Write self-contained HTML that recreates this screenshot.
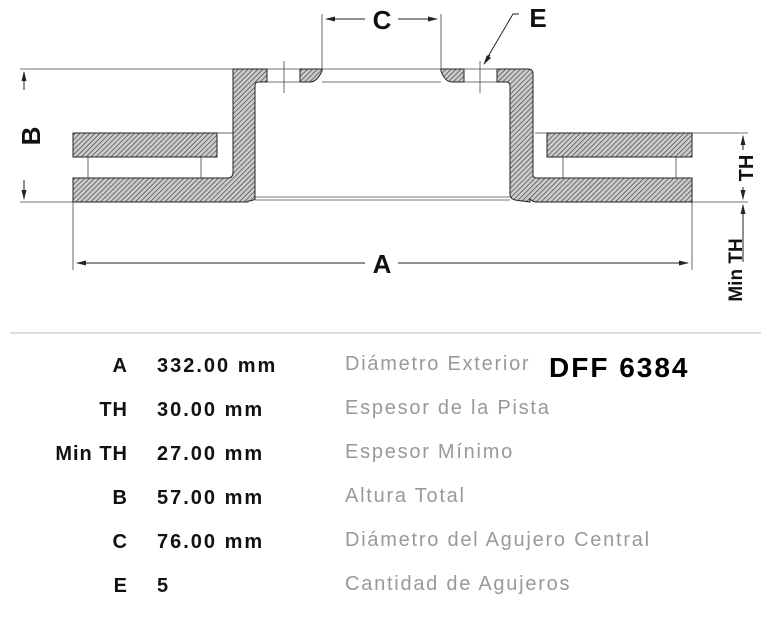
<!DOCTYPE html>
<html><head><meta charset="utf-8"><style>
body{margin:0;background:#fff;width:761px;height:634px;overflow:hidden;position:relative;font-family:"Liberation Sans",sans-serif}
.r{position:absolute;font-size:20px;line-height:22px;white-space:nowrap}
.l{right:633px;font-weight:bold;color:#111;text-align:right;letter-spacing:1px}
.v{left:157px;font-weight:bold;color:#111;letter-spacing:2px}
.d{left:345px;color:#999;letter-spacing:1.75px}
</style></head><body>
<svg width="761" height="330" style="position:absolute;left:0;top:0">
<defs>
<pattern id="h" width="3.5" height="3.5" patternUnits="userSpaceOnUse" patternTransform="rotate(45)">
<rect width="4" height="4" fill="#ccc"/><line x1="0" y1="0" x2="0" y2="4" stroke="#444" stroke-width="1.4"/></pattern>
<marker id="a" markerWidth="10" markerHeight="6" refX="9" refY="3" orient="auto"><path d="M0,0.5 L10,3 L0,5.5z" fill="#222"/></marker>
</defs>
<g stroke="#444" stroke-width="0.8" fill="none">
<line x1="20" y1="69" x2="233" y2="69"/><line x1="20" y1="202" x2="73" y2="202"/>
<line x1="267" y1="69" x2="300" y2="69"/><line x1="267" y1="82" x2="300" y2="82"/>
<line x1="322" y1="69" x2="441" y2="69"/><line x1="322" y1="82" x2="441" y2="82"/>
<line x1="464" y1="69" x2="497" y2="69"/><line x1="464" y1="82" x2="497" y2="82"/>
<line x1="255" y1="197" x2="510" y2="197"/><line x1="255" y1="200" x2="510" y2="200"/>
<line x1="322" y1="14" x2="322" y2="69"/><line x1="441" y1="14" x2="441" y2="69"/>
<line x1="284" y1="61" x2="284" y2="93"/><line x1="480" y1="61" x2="480" y2="93"/>
<line x1="73" y1="202" x2="73" y2="270"/><line x1="692" y1="202" x2="692" y2="270"/>
<line x1="535" y1="133" x2="748" y2="133"/><line x1="692" y1="202" x2="748" y2="202"/>
<line x1="88" y1="157" x2="88" y2="178"/><line x1="201" y1="157" x2="201" y2="178"/>
<line x1="563" y1="157" x2="563" y2="178"/><line x1="676" y1="157" x2="676" y2="178"/>
<line x1="217" y1="133" x2="233" y2="133"/>
</g>
<g stroke="#222" stroke-width="1" fill="url(#h)">
<rect x="73" y="133" width="144" height="24"/>
<rect x="547" y="133" width="145" height="24"/>
<path d="M233,69 H267 V82 H258 Q255,82 255,86 V199 Q253,201 248,201 V202 H73 V178 H228 Q233,178 233,172 Z"/>
<path d="M300,69 H322 L322,71 Q317,82 310,82 H300 Z"/>
<path d="M441,69 H464 V82 H452 Q445,82 441,71 Z"/>
<path d="M497,69 H528 Q533,69 533,74 V175 Q533,178 538,178 H692 V202 H537 Q533,202 530,199 V202 L515,200 Q510,199 510,194 V86 Q510,82 506,82 H497 Z"/>
</g>
<g stroke="#222" stroke-width="1" fill="none">
<line x1="24" y1="90" x2="24" y2="72" marker-end="url(#a)"/><line x1="24" y1="180" x2="24" y2="199" marker-end="url(#a)"/>
<line x1="365" y1="19" x2="326" y2="19" marker-end="url(#a)"/><line x1="398" y1="19" x2="437" y2="19" marker-end="url(#a)"/>
<line x1="365" y1="263" x2="77" y2="263" marker-end="url(#a)"/><line x1="398" y1="263" x2="688" y2="263" marker-end="url(#a)"/>
<line x1="743" y1="150" x2="743" y2="136" marker-end="url(#a)"/><line x1="743" y1="187" x2="743" y2="199" marker-end="url(#a)"/>
<line x1="743" y1="220" x2="743" y2="205" marker-end="url(#a)"/><line x1="743" y1="220" x2="743" y2="262"/>
<polyline points="519,14 513,14 486,60"/><line x1="490" y1="55" x2="484" y2="64" marker-end="url(#a)"/>
</g>
<g font-family="Liberation Sans" font-weight="bold" fill="#111">
<text x="382" y="29" font-size="26" text-anchor="middle">C</text>
<text x="538" y="27" font-size="26" text-anchor="middle">E</text>
<text x="382" y="273" font-size="26" text-anchor="middle">A</text>
<text transform="translate(40,136) rotate(-90)" font-size="26" text-anchor="middle">B</text>
<text transform="translate(753,168) rotate(-90)" font-size="20" text-anchor="middle">TH</text>
<text transform="translate(742,270) rotate(-90)" font-size="19" text-anchor="middle">Min TH</text>
</g>
</svg>
<div style="position:absolute;left:10px;top:332px;width:751px;height:2px;background:#ddd"></div>
<div class="r l" style="top:355px">A</div><div class="r v" style="top:355px">332.00 mm</div><div class="r d" style="top:353px">Diámetro Exterior</div>
<div class="r" style="left:549px;top:352px;font-size:28px;line-height:32px;font-weight:bold;color:#000;letter-spacing:2px">DFF 6384</div>
<div class="r l" style="top:399px">TH</div><div class="r v" style="top:399px">30.00 mm</div><div class="r d" style="top:397px">Espesor de la Pista</div>
<div class="r l" style="top:443px">Min TH</div><div class="r v" style="top:443px">27.00 mm</div><div class="r d" style="top:441px">Espesor Mínimo</div>
<div class="r l" style="top:487px">B</div><div class="r v" style="top:487px">57.00 mm</div><div class="r d" style="top:485px">Altura Total</div>
<div class="r l" style="top:531px">C</div><div class="r v" style="top:531px">76.00 mm</div><div class="r d" style="top:529px">Diámetro del Agujero Central</div>
<div class="r l" style="top:575px">E</div><div class="r v" style="top:575px">5</div><div class="r d" style="top:573px">Cantidad de Agujeros</div>
</body></html>
